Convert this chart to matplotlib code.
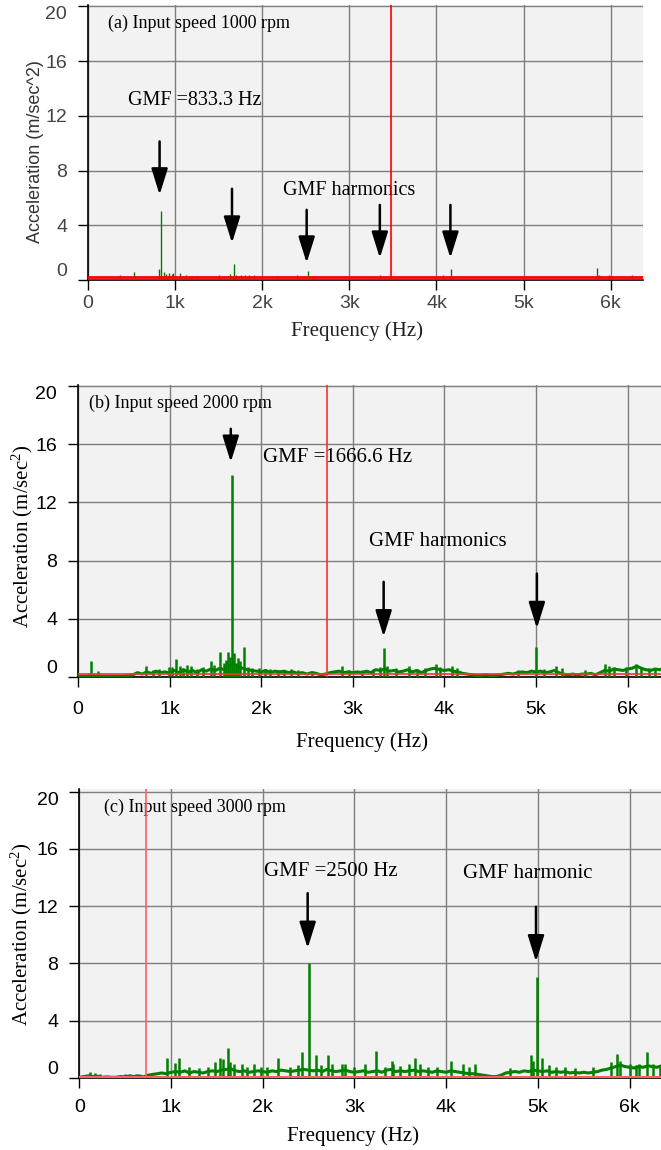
import matplotlib
matplotlib.use("Agg")
import matplotlib.pyplot as plt
import numpy as np

# ---- data ----
# panel (a) 1000 rpm
a_floor_f = [0, 1000, 2000, 3000, 4000, 5000, 6400]
a_floor_a = [0.08, 0.08, 0.08, 0.08, 0.08, 0.08, 0.08]
a_peak_f = [370, 530, 820, 833, 870, 900, 925, 960, 980, 1060, 1120, 1180, 1250, 1500,
            1625, 1675, 1700, 1760, 1800, 1850, 1900, 2170, 2400, 2520, 2580, 3350,
            4080, 4170, 5840, 5860, 5980, 6240]
a_peak_a = [0.37, 0.56, 0.8, 5.05, 0.6, 0.45, 0.5, 0.45, 0.5, 0.5, 0.35, 0.3, 0.3, 0.35,
            0.45, 1.15, 0.4, 0.4, 0.35, 0.4, 0.35, 0.3, 0.35, 0.66, 0.3, 0.35,
            0.35, 0.8, 0.9, 0.35, 0.35, 0.35]

# 50 Hz grid used for the noise floor of panels (b) and (c)
floor_f = [0, 50, 100, 150, 200, 250, 300, 350, 400, 450, 500, 550,
           600, 650, 700, 750, 800, 850, 900, 950, 1000,
           1050, 1100, 1150, 1200, 1250, 1300, 1350, 1400, 1450, 1500,
           1550, 1600, 1650, 1700, 1750, 1800, 1850, 1900, 1950,
           2000, 2050, 2100, 2150, 2200, 2250, 2300, 2350, 2400, 2450, 2500,
           2550, 2600, 2650, 2700, 2750, 2800, 2850, 2900, 2950, 3000,
           3050, 3100, 3150, 3200, 3250, 3300, 3350, 3400, 3450, 3500,
           3550, 3600, 3650, 3700, 3750, 3800, 3850, 3900, 3950, 4000,
           4050, 4100, 4150, 4200, 4250, 4300, 4350, 4400, 4450, 4500,
           4550, 4600, 4650, 4700, 4750, 4800, 4850, 4900, 4950, 5000,
           5050, 5100, 5150, 5200, 5250, 5300, 5350, 5400, 5450, 5500,
           5550, 5600, 5650, 5700, 5750, 5800, 5850, 5900, 5950, 6000,
           6050, 6100, 6150, 6200, 6250, 6300, 6350, 6400]

# panel (b) 2000 rpm
b_floor_a = [0.05, 0.05, 0.05, 0.08, 0.1, 0.05, 0.05, 0.05, 0.05, 0.05, 0.05, 0.1,
             0.15, 0.3, 0.2, 0.35, 0.25, 0.4, 0.3, 0.35, 0.25,
             0.45, 0.3, 0.5, 0.35, 0.45, 0.3, 0.5, 0.4, 0.55, 0.45,
             0.6, 0.5, 0.8, 0.9, 0.7, 0.6, 0.5, 0.45, 0.4,
             0.35, 0.45, 0.3, 0.4, 0.35, 0.4, 0.3, 0.35, 0.25, 0.3, 0.2,
             0.3, 0.25, 0.15, 0.2, 0.3, 0.35, 0.4, 0.3, 0.35, 0.3,
             0.35, 0.3, 0.4, 0.3, 0.5, 0.45, 0.55, 0.4, 0.45, 0.35,
             0.4, 0.5, 0.35, 0.45, 0.3, 0.45, 0.55, 0.6, 0.5, 0.45,
             0.5, 0.4, 0.35, 0.25, 0.2, 0.15, 0.1, 0.1, 0.15, 0.1,
             0.1, 0.15, 0.2, 0.25, 0.2, 0.3, 0.35, 0.3, 0.4, 0.35,
             0.4, 0.3, 0.35, 0.45, 0.3, 0.2, 0.15, 0.2, 0.15, 0.2,
             0.2, 0.25, 0.15, 0.3, 0.45, 0.4, 0.55, 0.5, 0.45, 0.55,
             0.6, 0.75, 0.6, 0.5, 0.45, 0.55, 0.5, 0.6]
b_peak_f = [120, 145, 220, 740, 820, 880, 990, 1030, 1070, 1110, 1150, 1190, 1230, 1300, 1370,
            1447, 1480, 1545, 1590, 1620, 1640, 1660, 1676, 1700, 1720, 1745, 1767, 1810,
            1860, 1900, 1980, 2040, 2100, 2180, 2250, 2330, 2400, 2560, 2880, 2960, 3100,
            3220, 3300, 3345, 3370, 3470, 3610, 3700, 3790, 3910, 3950, 4080, 4140, 4800,
            5000, 5090, 5220, 5280, 5530, 5750, 5800, 5850, 5980, 6090, 6150, 6230, 6300]
b_peak_a = [0.27, 1.12, 0.43, 0.75, 0.5, 0.55, 0.66, 0.7, 1.24, 0.75, 0.6, 0.8, 0.78, 0.55, 0.7,
            1.07, 0.85, 1.74, 0.96, 1.2, 1.72, 1.4, 13.9, 1.65, 0.95, 1.3, 1.1, 2.08,
            0.7, 0.6, 0.6, 0.55, 0.55, 0.5, 0.5, 0.55, 0.45, 0.4, 0.73, 0.5, 0.5,
            0.55, 0.7, 2.0, 0.75, 0.6, 0.73, 0.55, 0.6, 0.9, 0.7, 0.73, 0.6, 0.5,
            2.06, 0.55, 0.78, 0.6, 0.5, 0.9, 0.75, 0.7, 0.7, 0.9, 0.7, 0.65, 0.55]

# panel (c) 3000 rpm
c_floor_a = [0.05, 0.1, 0.15, 0.1, 0.12, 0.05, 0.08, 0.05, 0.05, 0.1, 0.08, 0.15,
             0.1, 0.15, 0.08, 0.2, 0.25, 0.3, 0.35, 0.3, 0.4,
             0.45, 0.4, 0.5, 0.35, 0.45, 0.4, 0.35, 0.45, 0.5, 0.45,
             0.55, 0.6, 0.65, 0.5, 0.45, 0.5, 0.4, 0.45, 0.5,
             0.45, 0.4, 0.5, 0.45, 0.55, 0.5, 0.45, 0.5, 0.55, 0.6, 0.55,
             0.5, 0.55, 0.45, 0.6, 0.5, 0.45, 0.5, 0.55, 0.45, 0.4,
             0.45, 0.5, 0.4, 0.45, 0.5, 0.4, 0.55, 0.6, 0.45, 0.5,
             0.45, 0.5, 0.55, 0.45, 0.5, 0.45, 0.4, 0.5, 0.45, 0.4,
             0.5, 0.45, 0.4, 0.35, 0.3, 0.3, 0.25, 0.2, 0.15, 0.1,
             0.1, 0.2, 0.35, 0.4, 0.45, 0.4, 0.5, 0.45, 0.55, 0.5,
             0.45, 0.5, 0.4, 0.45, 0.4, 0.45, 0.35, 0.4, 0.35, 0.4,
             0.35, 0.4, 0.45, 0.55, 0.6, 0.7, 0.8, 0.9, 0.8, 0.75,
             0.7, 0.8, 0.75, 0.85, 0.8, 0.75, 0.85, 0.8]
c_peak_f = [120, 170, 230, 500, 620, 960, 1040, 1090, 1200, 1300, 1400, 1480, 1530, 1570, 1620,
            1640, 1690, 1770, 1830, 1900, 1980, 2050, 2170, 2300, 2380, 2430, 2510, 2580,
            2640, 2710, 2760, 2860, 2900, 3000, 3110, 3240, 3330, 3410, 3420, 3500, 3590,
            3660, 3720, 3800, 3900, 4050, 4180, 4250, 4320, 4700, 4930, 4950, 4990, 5050,
            5120, 5200, 5300, 5400, 5600, 5800, 5860, 5900, 6000, 6070, 6100, 6190, 6260, 6330]
c_peak_a = [0.44, 0.33, 0.28, 0.25, 0.3, 1.37, 1.05, 1.37, 0.8, 0.7, 0.8, 1.1, 1.37, 1.3, 2.07,
            1.13, 1.0, 1.0, 0.8, 1.0, 0.8, 0.8, 1.37, 0.8, 0.9, 1.84, 8.05, 1.6,
            0.9, 1.6, 1.0, 0.95, 1.0, 0.8, 0.95, 1.9, 0.8, 1.2, 1.0, 0.85, 1.0,
            1.37, 0.95, 0.8, 0.8, 1.2, 1.0, 0.8, 0.95, 0.7, 1.6, 1.2, 7.03, 1.37,
            0.9, 0.8, 0.8, 0.7, 0.8, 1.1, 1.67, 1.2, 1.0, 0.9, 1.0, 1.84, 1.0, 0.9]

red_vline = [3480, 2715, 730]
red_hline = [0.2, 0.2, 0.08]

titles = ["(a) Input speed 1000 rpm", "(b) Input speed 2000 rpm", "(c) Input speed 3000 rpm"]
xtick_vals = [0, 1000, 2000, 3000, 4000, 5000, 6000]
xtick_lbls = ["0", "1k", "2k", "3k", "4k", "5k", "6k"]
ytick_vals = [0, 4, 8, 12, 16, 20]

# arrows: (x, y_tail, y_tip)
a_arrows = [(822, 10.13, 6.23), (1653, 6.67, 2.71), (2510, 5.13, 1.25), (3350, 5.49, 1.61), (4160, 5.49, 1.61)]
b_arrows = [(1668, 17.06, 14.77), (3337, 6.54, 2.77), (5010, 7.11, 3.34)]
c_arrows = [(2490, 12.9, 9.06), (4980, 11.96, 8.12)]

# ---- figure ----
fig = plt.figure(figsize=(6.61, 11.5), dpi=100)
serif = "Liberation Serif"
sans = "Liberation Sans"

rects = [[0.1331, 0.7565, 0.8396, 0.2391],
         [0.1180, 0.4113, 0.8820, 0.2539],
         [0.1200, 0.0626, 0.8800, 0.2510]]
xlims = [6370, 6365, 6343]
ylims = [20.1, 20.07, 20.15]

floors = [(a_floor_f, a_floor_a), (floor_f, b_floor_a), (floor_f, c_floor_a)]
peaks = [(a_peak_f, a_peak_a), (b_peak_f, b_peak_a), (c_peak_f, c_peak_a)]
arrows = [a_arrows, b_arrows, c_arrows]
floor_lw = [1.0, 2.2, 2.2]
peak_lw = [1.0, 1.8, 1.8]
red_cols = ["#ff0000", "#ff3030", "#ff6060"]
red_lw = [2.0, 1.2, 1.5]

for i in range(3):
    ax = fig.add_axes(rects[i])
    ax.set_facecolor("#f2f2f2")
    ax.set_xlim(0, xlims[i])
    ax.set_ylim(0, ylims[i])
    ax.set_xticks(xtick_vals)
    ax.set_xticklabels(xtick_lbls)
    ax.set_yticks(ytick_vals)
    ax.grid(True, color="#7f7f7f", lw=1.0)
    ax.set_axisbelow(True)
    for s in ["top", "right"]:
        ax.spines[s].set_visible(False)
    for s in ["left", "bottom"]:
        ax.spines[s].set_linewidth(1.2)
        ax.spines[s].set_color("black")
    tcol = "#444444" if i == 0 else "black"
    ax.tick_params(axis="both", direction="out", length=7, width=1.0, labelsize=14,
                   labelcolor=tcol)
    ax.tick_params(axis="x", pad=[4, 10, 8][i])
    ax.tick_params(axis="y", pad=8)
    for lbl in ax.get_xticklabels() + ax.get_yticklabels():
        lbl.set_fontfamily(sans)
    ylbls = ax.get_yticklabels()
    ylbls[0].set_va("bottom")
    ylbls[-1].set_va("top")

    ff, fa = floors[i]
    ax.plot(ff, fa, color="#008000", lw=floor_lw[i], zorder=3)
    pf, pa = peaks[i]
    ax.vlines(pf, 0, pa, color="#008000", lw=peak_lw[i], zorder=3)
    ax.axhline(red_hline[i], color=red_cols[i], lw=red_lw[i], zorder=4)
    ax.axvline(red_vline[i], color=red_cols[i], lw=1.2, zorder=4)

    for (x, y0, y1) in arrows[i]:
        ax.annotate("", xy=(x, y1), xytext=(x, y0),
                    arrowprops=dict(arrowstyle="-|>,head_length=0.8,head_width=0.25",
                                    color="black", lw=1.8, mutation_scale=20,
                                    shrinkA=0, shrinkB=0), zorder=5)

    if i == 0:
        ax.set_ylabel("Acceleration (m/sec^2)", fontfamily=sans, fontsize=13,
                      color="#333333", va="center")
        ax.yaxis.set_label_coords(-0.094, 0.469)
        ax.set_xlabel("Frequency (Hz)", fontfamily=serif, fontsize=15, color="#222222", va="center")
        ax.xaxis.set_label_coords(0.484, -0.185)
        ax.text(230, 18.77, titles[0], family=serif, fontsize=13, va="center")
        ax.text(458, 13.1, "GMF =833.3 Hz", family=serif, fontsize=14.5, va="center")
        ax.text(2235, 6.56, "GMF harmonics", family=serif, fontsize=14.5, va="center")
    elif i == 1:
        ax.set_ylabel("Acceleration (m/sec$\\mathregular{^2}$)", fontfamily=serif, fontsize=15,
                      va="center")
        ax.yaxis.set_label_coords(-0.096, 0.483)
        ax.set_xlabel("Frequency (Hz)", fontfamily=serif, fontsize=15, va="center")
        ax.xaxis.set_label_coords(0.487, -0.223)
        ax.text(125, 18.8, titles[1], family=serif, fontsize=13, va="center")
        ax.text(2020, 15.07, "GMF =1666.6 Hz", family=serif, fontsize=15, va="center")
        ax.text(3175, 9.28, "GMF harmonics", family=serif, fontsize=15, va="center")
    else:
        ax.set_ylabel("Acceleration (m/sec$\\mathregular{^2}$)", fontfamily=serif, fontsize=15,
                      va="center")
        ax.yaxis.set_label_coords(-0.1, 0.499)
        ax.set_xlabel("Frequency (Hz)", fontfamily=serif, fontsize=15, va="center")
        ax.xaxis.set_label_coords(0.471, -0.2)
        ax.text(264, 18.9, titles[2], family=serif, fontsize=13, va="center")
        ax.text(2014, 14.4, "GMF =2500 Hz", family=serif, fontsize=15, va="center")
        ax.text(4180, 14.3, "GMF harmonic", family=serif, fontsize=15, va="center")

fig.savefig("out.png", dpi=100)
